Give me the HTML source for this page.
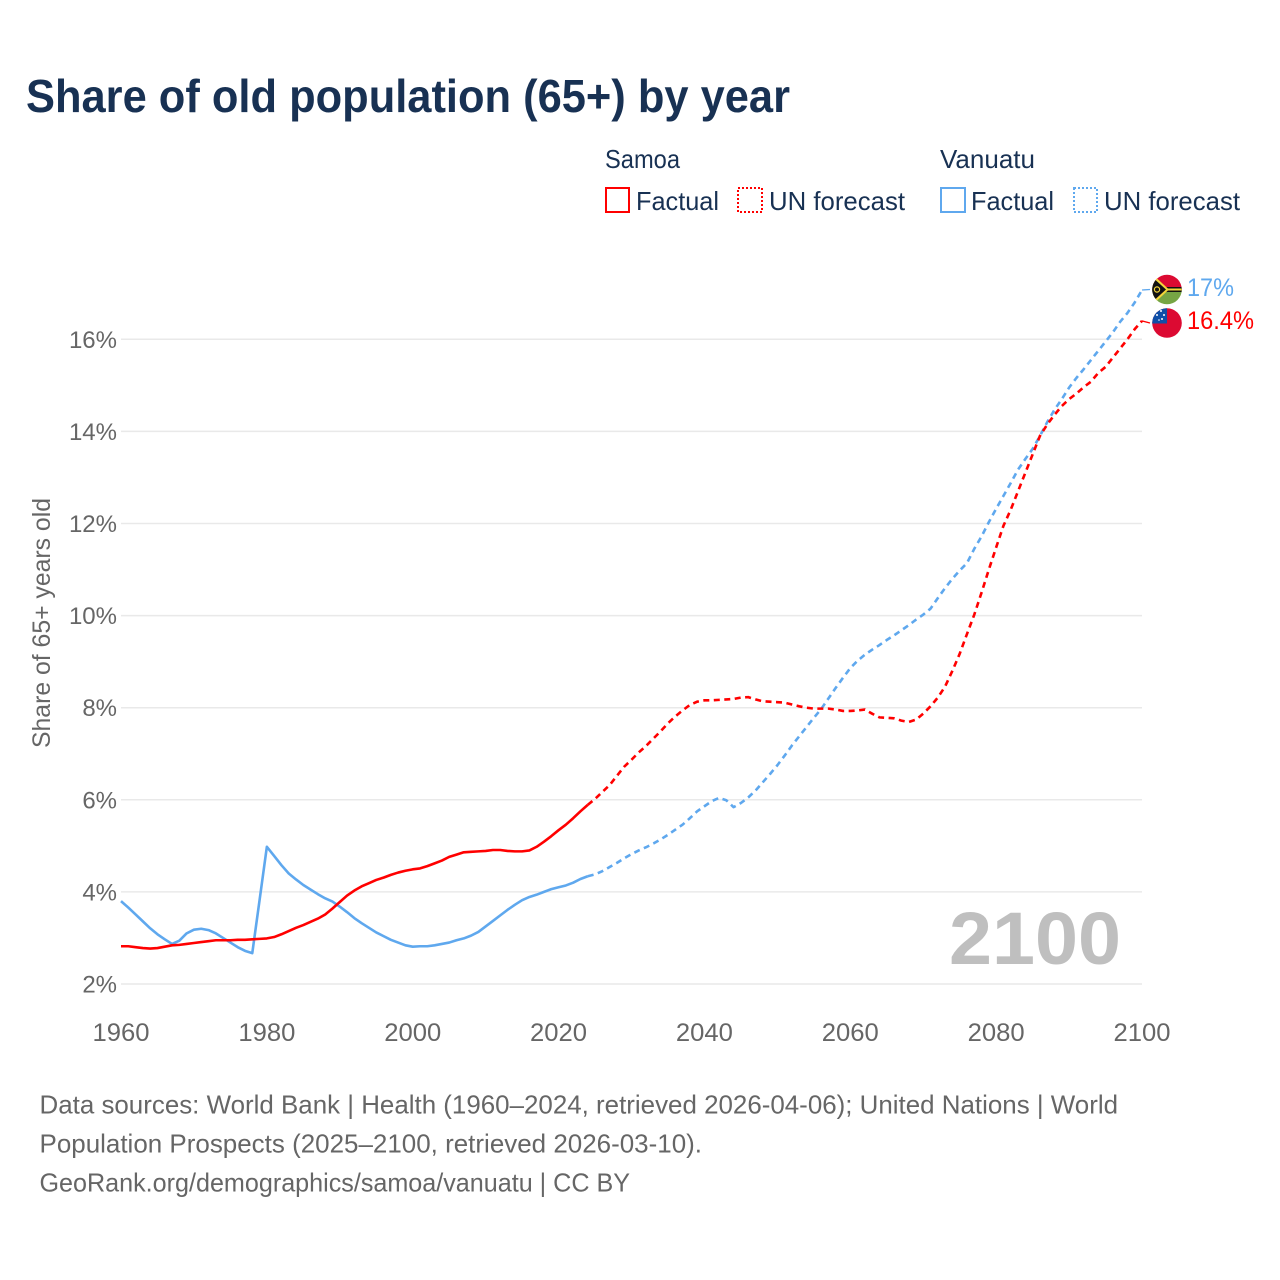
<!DOCTYPE html>
<html lang="en">
<head>
<meta charset="utf-8">
<title>Share of old population (65+) by year</title>
<style>
  html, body { margin: 0; padding: 0; background: #fff; }
  svg { display: block; font-family: "Liberation Sans", sans-serif; }
</style>
</head>
<body>
<svg id="chart" width="1280" height="1280" viewBox="0 0 1280 1280" xmlns="http://www.w3.org/2000/svg">
  <defs>
    <clipPath id="flag-clip-v"><circle cx="1167" cy="289.5" r="14.8"/></clipPath>
    <clipPath id="flag-clip-s"><circle cx="1167" cy="323" r="14.8"/></clipPath>
  </defs>
  <rect width="1280" height="1280" fill="#ffffff"/>

  <text x="26" y="112" font-size="46" font-weight="700" fill="#183153" textLength="764" lengthAdjust="spacingAndGlyphs">Share of old population (65+) by year</text>

  <g font-size="26" fill="#183153">
    <text x="605" y="168" textLength="75" lengthAdjust="spacingAndGlyphs">Samoa</text>
    <text x="940" y="168" textLength="95" lengthAdjust="spacingAndGlyphs">Vanuatu</text>

    <g>
      <rect x="606" y="188" width="23" height="24" fill="none" stroke="#ff0000" stroke-width="2"/>
      <text x="636" y="210" textLength="83" lengthAdjust="spacingAndGlyphs">Factual</text>
    </g>
    <g>
      <rect x="738" y="188" width="24" height="24" fill="none" stroke="#ff0000" stroke-width="2" stroke-dasharray="2 2"/>
      <text x="769" y="210" textLength="136" lengthAdjust="spacingAndGlyphs">UN forecast</text>
    </g>
    <g>
      <rect x="941" y="188" width="24" height="24" fill="none" stroke="#5fa8ee" stroke-width="2"/>
      <text x="971" y="210" textLength="83" lengthAdjust="spacingAndGlyphs">Factual</text>
    </g>
    <g>
      <rect x="1074" y="188" width="23" height="24" fill="none" stroke="#5fa8ee" stroke-width="2" stroke-dasharray="2 2"/>
      <text x="1104" y="210" textLength="136" lengthAdjust="spacingAndGlyphs">UN forecast</text>
    </g>
  </g>

  <text transform="translate(50,623) rotate(-90)" text-anchor="middle" font-size="25" fill="#666666" textLength="250" lengthAdjust="spacingAndGlyphs">Share of 65+ years old</text>

  <g id="grid"></g>
  <g id="y-ticks"></g>
  <g id="x-ticks"></g>

  <text x="1121" y="964" text-anchor="end" font-size="74" font-weight="700" fill="#bfbfbf" textLength="172" lengthAdjust="spacingAndGlyphs">2100</text>

  <g id="series"></g>

  <g clip-path="url(#flag-clip-v)">
    <rect x="1150" y="273" width="34" height="17" fill="#dc0a32"/>
    <rect x="1150" y="290" width="34" height="16" fill="#76a544"/>
    <rect x="1150" y="287" width="34" height="5" fill="#111111"/>
    <rect x="1160" y="288.5" width="24" height="2" fill="#f4d63a"/>
    <polygon points="1150,272 1169,289.5 1150,307" fill="#f4d63a"/>
    <polygon points="1150,275 1166,289.5 1150,304" fill="#111111"/>
    <circle cx="1157" cy="289.5" r="2.6" fill="none" stroke="#f4d63a" stroke-width="1.2"/>
  </g>
  <g clip-path="url(#flag-clip-s)">
    <rect x="1150" y="306" width="34" height="34" fill="#dc0a32"/>
    <rect x="1150" y="306" width="17" height="17.5" fill="#0f4fa8"/>
    <circle cx="1161" cy="311" r="1" fill="#fff"/>
    <circle cx="1157" cy="315" r="1" fill="#fff"/>
    <circle cx="1164" cy="315" r="1" fill="#fff"/>
    <circle cx="1162" cy="319" r="1" fill="#fff"/>
    <circle cx="1159" cy="320" r="0.8" fill="#fff"/>
  </g>

  <text id="label-vanuatu" x="1187" y="296" font-size="25" fill="#5fa8ee" textLength="47" lengthAdjust="spacingAndGlyphs">17%</text>
  <text id="label-samoa" x="1187" y="329" font-size="25" fill="#ff0000" textLength="67" lengthAdjust="spacingAndGlyphs">16.4%</text>

  <g font-size="26" fill="#666666">
    <text x="39.5" y="1113.5" textLength="1078.5" lengthAdjust="spacingAndGlyphs">Data sources: World Bank | Health (1960–2024, retrieved 2026-04-06); United Nations | World</text>
    <text x="39.5" y="1152.5" textLength="662.5" lengthAdjust="spacingAndGlyphs">Population Prospects (2025–2100, retrieved 2026-03-10).</text>
    <text x="39.5" y="1191.5" textLength="590.5" lengthAdjust="spacingAndGlyphs">GeoRank.org/demographics/samoa/vanuatu | CC BY</text>
  </g>
</svg>

<script>
const yTickValues = [2, 4, 6, 8, 10, 12, 14, 16];
const xTickYears = [1960, 1980, 2000, 2020, 2040, 2060, 2080, 2100];
const factualStartYear = 1960;
const forecastStartYear = 2024;

const samoaFactual = [
  2.82, 2.82, 2.80, 2.78, 2.77, 2.78, 2.81, 2.84, 2.85, 2.87,
  2.89, 2.91, 2.93, 2.95, 2.95, 2.95, 2.96, 2.96, 2.97, 2.98,
  2.99, 3.02, 3.08, 3.15, 3.22, 3.28, 3.35, 3.42, 3.51, 3.64,
  3.78, 3.92, 4.03, 4.12, 4.19, 4.26, 4.31, 4.37, 4.42, 4.46,
  4.49, 4.51, 4.56, 4.62, 4.68, 4.76, 4.81, 4.86, 4.87, 4.88,
  4.89, 4.91, 4.91, 4.89, 4.88, 4.88, 4.90, 4.98, 5.09, 5.21,
  5.34, 5.46, 5.60, 5.75, 5.89
];
const samoaForecast = [
  5.89, 6.02, 6.17, 6.32, 6.52, 6.72, 6.87, 7.03, 7.17, 7.33,
  7.49, 7.66, 7.81, 7.94, 8.06, 8.13, 8.16, 8.16, 8.17, 8.18,
  8.19, 8.22, 8.23, 8.18, 8.14, 8.13, 8.12, 8.11, 8.07, 8.03,
  8.00, 7.98, 7.98, 7.98, 7.96, 7.93, 7.93, 7.94, 7.96, 7.87,
  7.79, 7.78, 7.77, 7.72, 7.69, 7.74, 7.87, 8.03, 8.22, 8.46,
  8.80, 9.17, 9.60, 10.02, 10.50, 11.00, 11.48, 11.95, 12.30, 12.70,
  13.10, 13.50, 13.90, 14.15, 14.36, 14.55, 14.70, 14.82, 14.96, 15.08,
  15.27, 15.40, 15.60, 15.80, 16.00, 16.22, 16.40
];
const vanuatuFactual = [
  3.80, 3.66, 3.51, 3.36, 3.21, 3.08, 2.97, 2.87, 2.94, 3.10,
  3.18, 3.20, 3.17, 3.10, 3.00, 2.90, 2.80, 2.72, 2.67, 3.82,
  4.98, 4.78, 4.58, 4.40, 4.27, 4.15, 4.05, 3.95, 3.86, 3.79,
  3.68, 3.56, 3.43, 3.32, 3.22, 3.12, 3.04, 2.96, 2.90, 2.84,
  2.81, 2.82, 2.82, 2.84, 2.87, 2.90, 2.95, 2.99, 3.05, 3.13,
  3.25, 3.37, 3.49, 3.61, 3.72, 3.82, 3.89, 3.94, 4.00, 4.06,
  4.10, 4.14, 4.20, 4.28, 4.34
];
const vanuatuForecast = [
  4.34, 4.38, 4.45, 4.54, 4.63, 4.73, 4.82, 4.90, 4.97, 5.05,
  5.14, 5.24, 5.35, 5.46, 5.60, 5.75, 5.86, 5.97, 6.04, 5.99,
  5.84, 5.93, 6.05, 6.20, 6.38, 6.56, 6.75, 6.96, 7.18, 7.38,
  7.58, 7.78, 7.97, 8.20, 8.43, 8.65, 8.86, 9.02, 9.15, 9.26,
  9.36, 9.47, 9.57, 9.68, 9.79, 9.91, 10.02, 10.15, 10.38, 10.60,
  10.80, 10.98, 11.14, 11.45, 11.72, 12.03, 12.32, 12.60, 12.88, 13.17,
  13.40, 13.62, 13.90, 14.20, 14.47, 14.70, 14.95, 15.16, 15.35, 15.55,
  15.75, 15.95, 16.15, 16.38, 16.57, 16.80, 17.07
];

const SVG_NS = 'http://www.w3.org/2000/svg';
const SAMOA_COLOR = '#ff0000';
const VANUATU_COLOR = '#5fa8ee';

function xScale(year) { return 121 + (year - 1960) * (1142 - 121) / 140; }
function yScale(value) { return 984 - (value - 2) * 46.05; }

function pointsFor(values, startYear) {
  return values.map(function (v, i) {
    return xScale(startYear + i).toFixed(2) + ',' + yScale(v).toFixed(2);
  }).join(' ');
}

const gridLayer = document.getElementById('grid');
const yTickLayer = document.getElementById('y-ticks');
const xTickLayer = document.getElementById('x-ticks');
const seriesLayer = document.getElementById('series');

yTickValues.forEach(function (v) {
  const line = document.createElementNS(SVG_NS, 'line');
  
  
  line.setAttribute('x1', 121);
  line.setAttribute('x2', 1142);
  line.setAttribute('y1', yScale(v));
  line.setAttribute('y2', yScale(v));
  line.setAttribute('stroke', '#e9e9e9');
  line.setAttribute('stroke-width', 1.5);
  gridLayer.appendChild(line);

  const label = document.createElementNS(SVG_NS, 'text');
  
  
  label.setAttribute('x', 117);
  label.setAttribute('y', yScale(v) + 8.5);
  label.setAttribute('text-anchor', 'end');
  label.setAttribute('font-size', 24);
  label.setAttribute('fill', '#666666');
  label.textContent = v + '%';
  yTickLayer.appendChild(label);
});

xTickYears.forEach(function (year) {
  const label = document.createElementNS(SVG_NS, 'text');
  
  
  label.setAttribute('x', xScale(year));
  label.setAttribute('y', 1041);
  label.setAttribute('text-anchor', 'middle');
  label.setAttribute('font-size', 25);
  label.setAttribute('fill', '#666666');
  label.setAttribute('textLength', 57);
  label.setAttribute('lengthAdjust', 'spacingAndGlyphs');
  label.textContent = year;
  xTickLayer.appendChild(label);
});

function addLine(values, startYear, color, dashed, name) {
  const line = document.createElementNS(SVG_NS, 'polyline');
  
  
  line.setAttribute('points', pointsFor(values, startYear));
  line.setAttribute('fill', 'none');
  line.setAttribute('stroke', color);
  line.setAttribute('stroke-width', 2.6);
  line.setAttribute('stroke-linejoin', 'round');
  if (dashed) {
    line.setAttribute('stroke-dasharray', '6 4.5');
  }
  seriesLayer.appendChild(line);
}

function addConnector(values, color, targetX, targetY, name) {
  const line = document.createElementNS(SVG_NS, 'line');
  
  
  line.setAttribute('x1', xScale(2100));
  line.setAttribute('y1', yScale(values[values.length - 1]));
  line.setAttribute('x2', targetX);
  line.setAttribute('y2', targetY);
  line.setAttribute('stroke', color);
  line.setAttribute('stroke-width', 1.3);
  seriesLayer.appendChild(line);
}

addLine(vanuatuForecast, forecastStartYear, VANUATU_COLOR, true, 'vanuatu-forecast-line');
addLine(vanuatuFactual, factualStartYear, VANUATU_COLOR, false, 'vanuatu-factual-line');
addLine(samoaForecast, forecastStartYear, SAMOA_COLOR, true, 'samoa-forecast-line');
addLine(samoaFactual, factualStartYear, SAMOA_COLOR, false, 'samoa-factual-line');
addConnector(vanuatuForecast, VANUATU_COLOR, 1150, 289.5, 'vanuatu-label-connector');
addConnector(samoaForecast, SAMOA_COLOR, 1150, 323, 'samoa-label-connector');
</script>
</body>
</html>
